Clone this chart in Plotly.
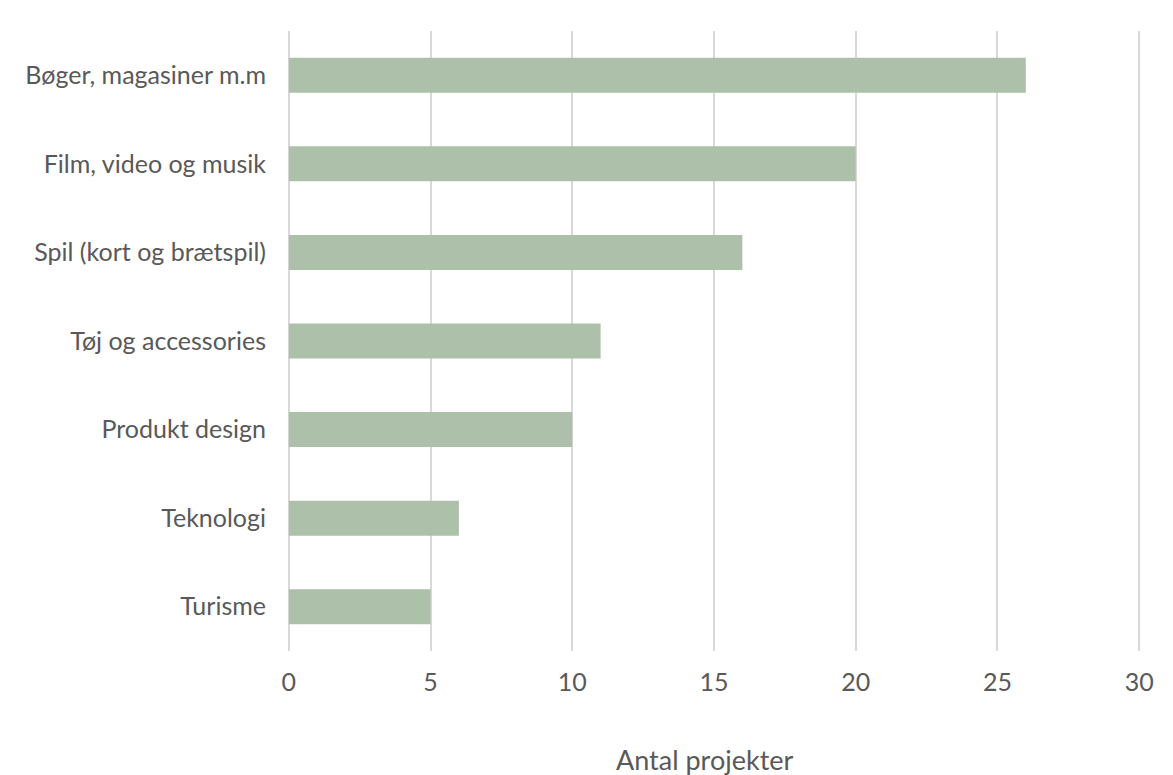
import plotly.graph_objects as go

categories = ["Bøger, magasiner m.m", "Film, video og musik", "Spil (kort og brætspil)",
              "Tøj og accessories", "Produkt design", "Teknologi", "Turisme"]
values = [26, 20, 16, 11, 10, 6, 5]
x_ticks = [0, 5, 10, 15, 20, 25, 30]
x_title = "Antal projekter"

fig = go.Figure(go.Bar(
    y=categories, x=values, orientation="h",
    marker=dict(color="#adc1aa", line=dict(width=0)),
))

font_family = "Lato, Open Sans, sans-serif"
grey = "#595959"
fig.update_layout(
    width=1165, height=767,
    margin=dict(l=278.2, r=31.1, t=23, b=124),
    plot_bgcolor="white", paper_bgcolor="white",
    bargap=0.605,
    showlegend=False,
    font=dict(family=font_family, size=25, color=grey),
)
fig.update_xaxes(
    range=[-0.1, 30.1], tickvals=x_ticks, showgrid=True, gridcolor="#d9d9d9", gridwidth=2,
    zeroline=False, showline=False, ticks="", automargin=False,
    tickfont=dict(size=25, color=grey), ticklabelstandoff=14,
)
fig.update_yaxes(
    categoryorder="array", categoryarray=categories[::-1],
    showgrid=False, zeroline=False, showline=False, ticks="", automargin=False,
    tickfont=dict(size=25, color=grey), ticklabelstandoff=19,
)
fig.add_annotation(
    text=x_title, xref="paper", yref="paper", x=0.4894, y=-0.175,
    xanchor="center", yanchor="middle", showarrow=False,
    font=dict(size=27, color=grey, family=font_family),
)

fig.write_html("out.html")
